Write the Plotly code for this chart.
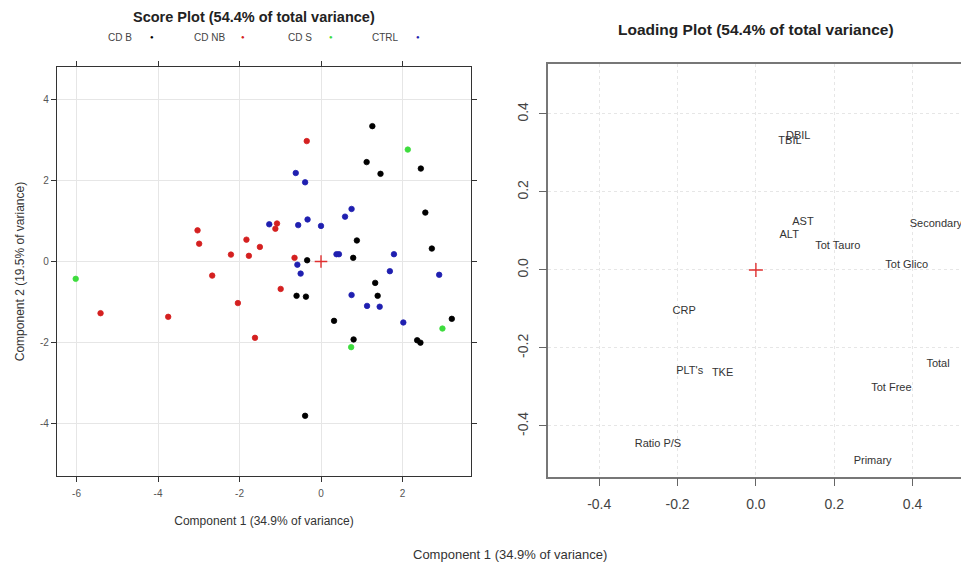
import plotly.graph_objects as go

# ---------------- data ----------------
groups = ["CD B", "CD NB", "CD S", "CTRL"]
group_colors = ["#000000", "#d42020", "#3ddc3d", "#1f1fb0"]

cdb_x = [1.26, 1.12, 1.46, 2.45, 2.56, 0.88, 2.72, -0.34, 0.79, -0.60, -0.37, 1.33, 1.39, 0.32, 3.21, 0.80, 2.36, 2.44, -0.39]
cdb_y = [3.35, 2.46, 2.17, 2.30, 1.21, 0.52, 0.32, 0.03, 0.09, -0.85, -0.87, -0.53, -0.85, -1.47, -1.42, -1.93, -1.95, -2.01, -3.82]

cdnb_x = [-1.08, -1.12, -3.03, -2.99, -1.83, -1.50, -2.21, -1.77, -2.67, -5.41, -3.75, -2.04, -1.62, -0.99, -0.35, -0.65]
cdnb_y = [0.94, 0.81, 0.77, 0.44, 0.54, 0.36, 0.17, 0.14, -0.35, -1.28, -1.37, -1.03, -1.89, -0.68, 2.98, 0.09]

cds_x = [-6.02, 2.13, 2.98, 0.74]
cds_y = [-0.43, 2.77, -1.66, -2.12]

ctrl_x = [-1.27, -0.62, -0.39, 0.75, 0.59, -0.56, -0.33, 0.00, 0.38, 0.44, 1.79, -0.58, -0.50, 1.69, 2.90, 0.75, 1.13, 1.44, 2.02]
ctrl_y = [0.92, 2.19, 1.96, 1.30, 1.11, 0.90, 1.04, 0.88, 0.18, 0.18, 0.18, -0.08, -0.30, -0.24, -0.33, -0.83, -1.10, -1.12, -1.51]

score_x = [cdb_x, cdnb_x, cds_x, ctrl_x]
score_y = [cdb_y, cdnb_y, cds_y, ctrl_y]

load_labels = ["DBIL", "TBIL", "AST", "ALT", "Tot Tauro", "Secondary", "Tot Glico",
               "CRP", "PLT's", "TKE", "Ratio P/S", "Total", "Tot Free", "Primary"]
load_x = [0.108, 0.087, 0.120, 0.085, 0.209, 0.460, 0.385, -0.183, -0.169, -0.085, -0.250, 0.465, 0.346, 0.298]
load_y = [0.344, 0.329, 0.122, 0.090, 0.062, 0.118, 0.011, -0.105, -0.259, -0.265, -0.446, -0.241, -0.302, -0.491]

score_xticks = [-6, -4, -2, 0, 2]
score_xticktext = ["-6", "-4", "-2", "0", "2"]
score_yticks = [-4, -2, 0, 2, 4]
score_yticktext = ["-4", "-2", "0", "2", "4"]
load_ticks = [-0.4, -0.2, 0.0, 0.2, 0.4]
load_ticktext = ["-0.4", "-0.2", "0.0", "0.2", "0.4"]

W, H = 961, 565
FONT = "Liberation Sans, Arial, sans-serif"

fig = go.Figure()

for g, c, xs, ys in zip(groups, group_colors, score_x, score_y):
    fig.add_trace(go.Scatter(
        x=xs, y=ys, mode="markers", name=g, showlegend=False,
        marker=dict(size=5.5, color=c, line=dict(width=0.8, color=c)),
        xaxis="x", yaxis="y"))

# origin markers
fig.add_trace(go.Scatter(x=[0], y=[0], mode="markers", showlegend=False,
                         marker=dict(symbol="cross-thin", size=9, line=dict(width=1.4, color="#e03030")),
                         xaxis="x", yaxis="y"))
fig.add_trace(go.Scatter(x=[0], y=[0], mode="markers", showlegend=False,
                         marker=dict(symbol="cross-thin", size=10, line=dict(width=1.4, color="#e03030")),
                         xaxis="x2", yaxis="y2"))

fig.add_trace(go.Scatter(x=load_x, y=load_y, mode="text", text=load_labels, showlegend=False,
                         textfont=dict(family=FONT, size=11, color="#333333"),
                         cliponaxis=True, xaxis="x2", yaxis="y2"))

def px_x(p):
    return p / W

def px_y(p):
    return 1 - p / H

fig.update_layout(
    width=W, height=H,
    margin=dict(l=0, r=0, t=0, b=0),
    paper_bgcolor="white", plot_bgcolor="white",
    font=dict(family=FONT, color="#333333"),
    xaxis=dict(domain=[px_x(57), px_x(471)], range=[-6.479, 3.681],
               tickvals=score_xticks, ticktext=score_xticktext, ticks="outside", ticklen=5, tickcolor="#333",
               showline=True, linecolor="#333", linewidth=1.2, mirror="ticks",
               showgrid=True, gridcolor="#e6e6e6", gridwidth=1, zeroline=False,
               tickfont=dict(size=10, color="#555"), ticklabelstandoff=3,
               title=dict(text="Component 1 (34.9% of variance)", font=dict(size=12, color="#333"), standoff=18),
               anchor="y", automargin=False),
    yaxis=dict(domain=[px_y(476), px_y(67)], range=[-5.31, 4.814],
               tickvals=score_yticks, ticktext=score_yticktext, ticks="outside", ticklen=5, tickcolor="#333",
               showline=True, linecolor="#333", linewidth=1.2, mirror="ticks",
               showgrid=True, gridcolor="#e6e6e6", gridwidth=1, zeroline=False,
               tickfont=dict(size=10, color="#555"),
               title=dict(text="Component 2 (19.5% of variance)", font=dict(size=12, color="#333"), standoff=12),
               anchor="x", automargin=False),
    xaxis2=dict(domain=[px_x(548.3), 1.0], range=[-0.530, 0.5236],
                tickvals=load_ticks, ticktext=load_ticktext, ticks="outside", ticklen=8, tickcolor="#666",
                showline=True, linecolor="#777", linewidth=1.5, mirror=True,
                showgrid=True, gridcolor="#e6e6e6", griddash="dot", gridwidth=1, zeroline=False,
                tickfont=dict(size=14, color="#444"), ticklabelstandoff=6,
                anchor="y2", automargin=False),
    yaxis2=dict(domain=[px_y(476.7), px_y(64)], range=[-0.530, 0.528],
                tickvals=load_ticks, ticktext=load_ticktext, ticks="outside", ticklen=8, tickcolor="#666",
                tickangle=-90,
                showline=True, linecolor="#777", linewidth=1.5, mirror=False,
                showgrid=True, gridcolor="#e6e6e6", griddash="dot", gridwidth=1, zeroline=False,
                tickfont=dict(size=14, color="#444"), ticklabelstandoff=5,
                anchor="x2", automargin=False),
)

annotations = [
    dict(text="<b>Score Plot (54.4% of total variance)</b>", x=px_x(254), y=px_y(17),
         font=dict(size=14.5, color="#222")),
    dict(text="<b>Loading Plot (54.4% of total variance)</b>", x=px_x(756), y=px_y(30),
         font=dict(size=15.5, color="#222")),
    dict(text="Component 1 (34.9% of variance)", x=px_x(510), y=px_y(554),
         font=dict(size=13, color="#333")),
]
leg_text_x = [120, 209, 300, 385]
leg_dot_x = [152, 243, 331, 418]
for g, c, tx, dx in zip(groups, group_colors, leg_text_x, leg_dot_x):
    annotations.append(dict(text=g, x=px_x(tx), y=px_y(37), font=dict(size=10, color="#444")))
    annotations.append(dict(text="●", x=px_x(dx), y=px_y(37), font=dict(size=6, color=c)))

for a in annotations:
    a.update(xref="paper", yref="paper", showarrow=False, xanchor="center", yanchor="middle")
fig.update_layout(annotations=annotations)

fig.write_html("out.html")
